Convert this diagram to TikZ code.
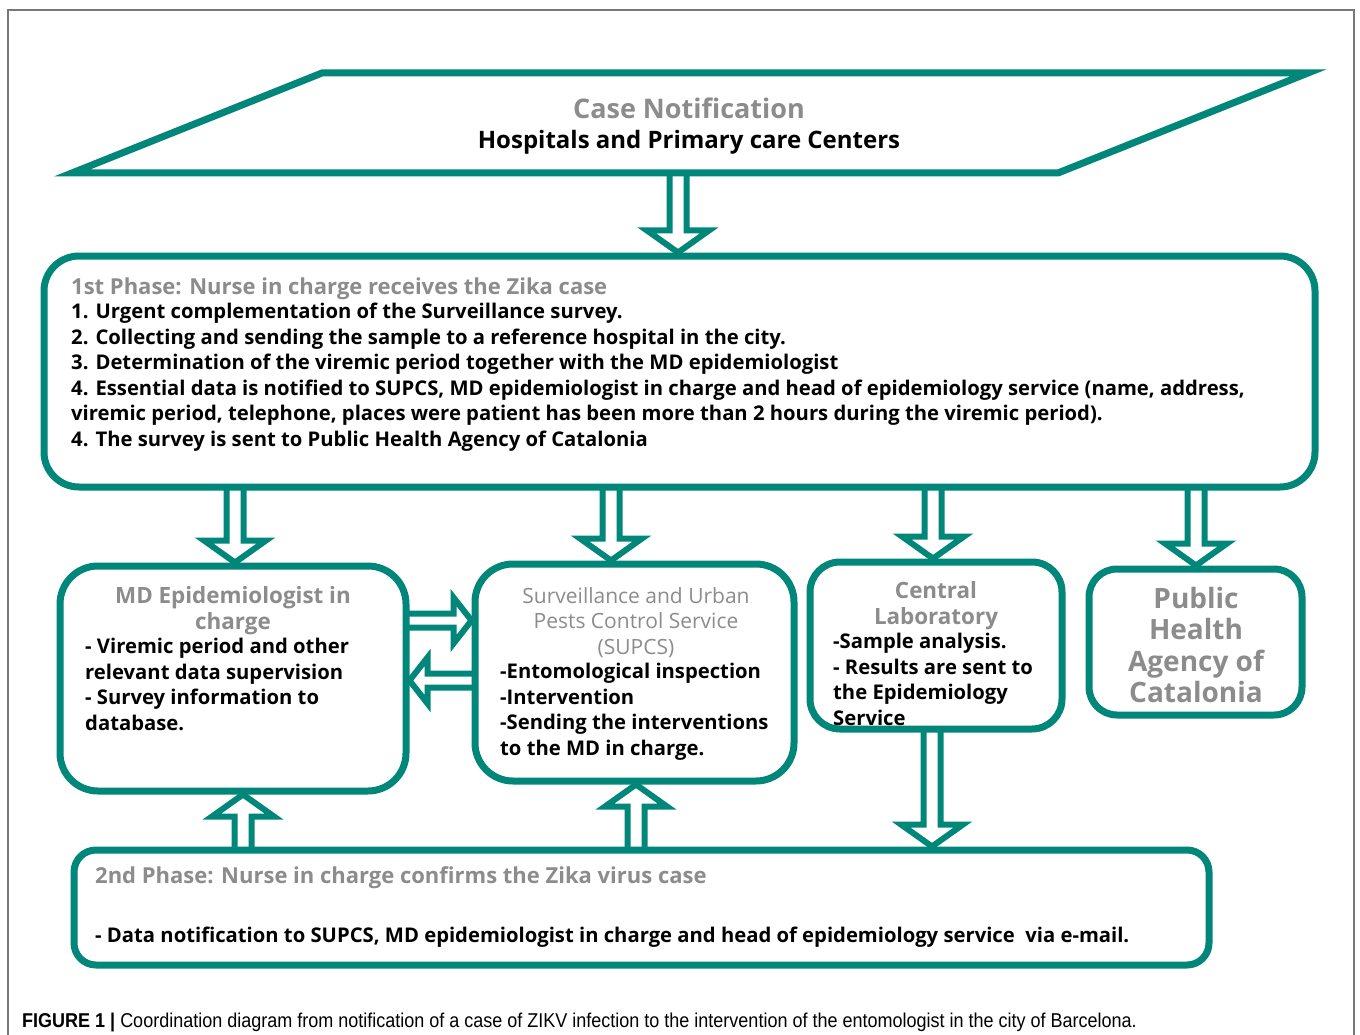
\documentclass[tikz,border=0pt]{standalone}
\usepackage{fontspec}
\setmainfont{Open Sans}
\newfontfamily\capfont[FakeStretch=0.90]{Liberation Sans}
\usetikzlibrary{calc}
\definecolor{teal1}{RGB}{0,135,122}
\definecolor{txtgray}{RGB}{140,140,140}
\definecolor{framegray}{RGB}{120,120,120}
\pgfdeclarelayer{bg}
\pgfsetlayers{bg,main}
\tikzset{
  arrw/.store in=\arrw, arrW/.store in=\arrW, arrh/.store in=\arrh,
  arrw=8.5pt, arrW=31pt, arrh=22pt,
  hollow/.style={draw=teal1, fill=white, line width=6pt, line join=miter,
    to path={let \p1=(\tikztostart), \p2=(\tikztotarget), \p3=($(\p2)!\arrh!(\p1)$) in
      ($(\p1)!\arrw!90:(\p2)$) -- ($(\p3)!\arrw!90:(\p2)$) -- ($(\p3)!\arrW!90:(\p2)$) -- (\p2)
      -- ($(\p3)!\arrW!-90:(\p2)$) -- ($(\p3)!\arrw!-90:(\p2)$) -- ($(\p1)!\arrw!-90:(\p2)$) -- cycle}},
  hsmall/.style={hollow, arrw=7pt, arrW=23pt, arrh=18pt},
  box/.style={draw=teal1, line width=7pt, fill=white, inner sep=0pt},
  pgram/.style={draw=teal1, line width=7pt, fill=white, line join=miter},
  body/.style={inner sep=0pt, align=left, anchor=north west, text=black,
    font=\bfseries\fontsize{20.25}{25.5}\selectfont},
  gtitle/.style={inner sep=0pt, align=center, anchor=north, text=txtgray,
    font=\bfseries\fontsize{22.4}{25.5}\selectfont},
  ltitle/.style={inner sep=0pt, align=left, anchor=north west, text=txtgray,
    font=\bfseries\fontsize{22}{25.5}\selectfont},
}
\begin{document}
\begin{tikzpicture}[x=1pt,y=-1pt]
\useasboundingbox (0,0) rectangle (1360,1035);
\draw[framegray, line width=1.2pt] (8,1035) -- (8,10) -- (1354,10) -- (1354,1035);

% parallelogram
\draw[pgram] (72,173) -- (322,73) -- (1308,73) -- (1058,173) -- cycle;
\node[inner sep=0pt, text=txtgray, font=\bfseries\fontsize{27}{30}\selectfont] (cn) at (689,108) {Case Notification};
\node[inner sep=0pt, text=black, font=\bfseries\fontsize{24}{28}\selectfont] (hp) at (689,142) {Hospitals and Primary care Centers};
\coordinate (cnb) at (678,173);

% boxes
\node[box, rounded corners=35pt, minimum width=1271pt, minimum height=231pt] (p1) at (679.5,371.5) {};
\node[box, rounded corners=38pt, minimum width=346pt, minimum height=225pt] (md) at (233,678.5) {};
\node[box, rounded corners=38pt, minimum width=319pt, minimum height=217pt] (sup) at (634.5,672.5) {};
\node[box, rounded corners=30pt, minimum width=252pt, minimum height=167pt] (cl) at (936,645.5) {};
\node[box, rounded corners=28pt, minimum width=213pt, minimum height=146pt] (ph) at (1195.5,642) {};
\node[box, rounded corners=22pt, minimum width=1135pt, minimum height=115pt] (p2) at (641.5,907.5) {};

% arrows
\begin{pgfonlayer}{bg}
\draw[hollow] ($(cnb)+(0,-10)$) to (p1.north -| cnb);
\draw[hollow] ($(md.north |- p1.south)+(2,-10)$) to ($(md.north)+(2,0)$);
\draw[hollow] ($(sup.north |- p1.south)+(-23.5,-10)$) to ($(sup.north)+(-23.5,0)$);
\draw[hollow] ($(cl.north |- p1.south)+(-3,-10)$) to ($(cl.north)+(-3,0)$);
\draw[hollow] ($(ph.north |- p1.south)+(0.5,-10)$) to ($(ph.north)+(0.5,0)$);
\draw[hsmall] ($(md.east)+(-10,-58)$) to ($(sup.west |- md.east)+(0,-58)$);
\draw[hsmall] ($(sup.west)+(10,8)$) to ($(md.east |- sup.west)+(0,8)$);
\draw[hollow] ($(md.south |- p2.north)+(10,10)$) to ($(md.south)+(10,0)$);
\draw[hollow] ($(sup.south |- p2.north)+(1.5,10)$) to ($(sup.south)+(1.5,0)$);
\draw[hollow] ($(cl.south)+(-4,-10)$) to ($(p2.north -| cl.south)+(-4,0)$);
\end{pgfonlayer}

% texts
\node[ltitle] (t1t) at (71,277.5) {1st Phase: Nurse in charge receives the Zika case};
\node[body] (t1) at (71,303.2) {1. Urgent complementation of the Surveillance survey.\\
2. Collecting and sending the sample to a reference hospital in the city.\\
3. Determination of the viremic period together with the MD epidemiologist\\
4. Essential data is notified to SUPCS, MD epidemiologist in charge and head of epidemiology service (name, address,\\
viremic period, telephone, places were patient has been more than 2 hours during the viremic period).\\
4. The survey is sent to Public Health Agency of Catalonia};

\node[gtitle] (mdt) at (233,586.5) {MD Epidemiologist in\\charge};
\node[body] (mdb) at (85,638) {- Viremic period and other\\relevant data supervision\\- Survey information to\\database.};

\node[gtitle, font=\fontsize{21}{25.5}\selectfont] (supt) at (636,587) {Surveillance and Urban\\Pests Control Service\\(SUPCS)};
\node[body] (supb) at (500,663) {-Entomological inspection\\-Intervention\\-Sending the interventions\\to the MD in charge.};

\node[gtitle] (clt) at (936,581.5) {Central\\Laboratory};
\node[body] (clb) at (833,633) {-Sample analysis.\\- Results are sent to\\the Epidemiology\\Service};

\node[gtitle, font=\bfseries\fontsize{28}{31.5}\selectfont] (pht) at (1196,587) {Public\\Health\\Agency of\\Catalonia};

\node[ltitle] (p2t) at (95,866.5) {2nd Phase: Nurse in charge confirms the Zika virus case};
\node[body] (p2b) at (95,927) {- Data notification to SUPCS, MD epidemiologist in charge and head of epidemiology service\ \ via e-mail.};

\node[anchor=base west, inner sep=0pt, font=\capfont\fontsize{20}{22}\selectfont] (cap) at (22,1027) {\textbf{FIGURE 1 |} Coordination diagram from notification of a case of ZIKV infection to the intervention of the entomologist in the city of Barcelona.};
\end{tikzpicture}
\end{document}
